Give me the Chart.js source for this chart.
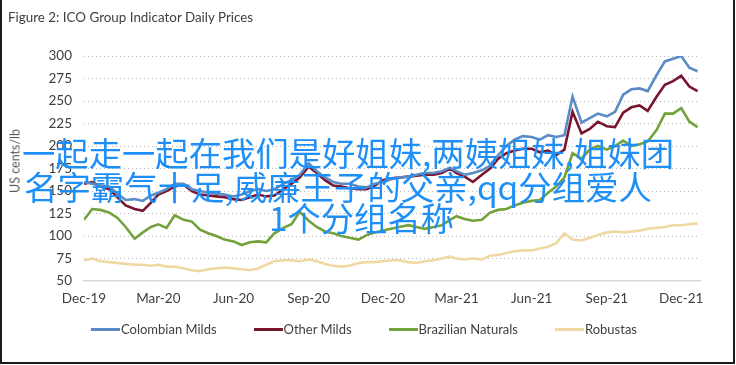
<!DOCTYPE html>
<html>
<head>
<meta charset="utf-8">
<script src="https://cdn.jsdelivr.net/npm/chart.js@4.4.0/dist/chart.umd.min.js"></script>
<style>
  html, body { margin: 0; padding: 0; background: #fff; }
  #wrap { position: relative; width: 736px; height: 365px; overflow: hidden;
          font-family: Lato, 'Liberation Sans', sans-serif; color: #404040; }
  #frame { position: absolute; left: 0; top: 0; width: 735px; height: 364px; box-sizing: border-box;
           border-left: 2px solid #1b1b1b; border-right: 2px solid #1b1b1b; border-bottom: 2px solid #1b1b1b; }
  canvas { position: absolute; left: 0; top: 0; }
  #title { position: absolute; left: 8px; top: 8px; font-size: 13.4px; line-height: 18px; white-space: nowrap; }
  #ytitle { position: absolute; left: 15px; top: 161px; font-size: 12.5px; color: #595959; white-space: nowrap;
            transform: translate(-50%, -50%) rotate(-90deg); }
  #legend { position: absolute; left: 0; width: 728px; top: 320px; display: flex; justify-content: center; gap: 37px;
            font-size: 13px; line-height: 18px; color: #404040; }
  #legend .item { display: flex; align-items: center; white-space: nowrap; }
  #legend .sw { width: 29px; height: 3px; margin-right: 1px; }
  .cn { position: absolute; font-family: 'Noto Sans CJK SC', sans-serif; font-size: 33px; line-height: 32px;
        color: #1e8ff7; white-space: nowrap; transform-origin: 0 50%; }
</style>
</head>
<body>
<div id="wrap">
  <canvas id="chart" width="736" height="365"></canvas>
  <div id="title">Figure 2: ICO Group Indicator Daily Prices</div>
  <div id="ytitle">US cents/lb</div>
  <div id="legend"></div>
  <div class="cn" data-w="652" style="left:22px; top:136px;">一起走一起在我们是好姐妹,两姨姐妹,姐妹团</div>
  <div class="cn" data-w="628" style="left:24px; top:170px;">名字霸气十足,威廉王子的父亲,qq分组爱人</div>
  <div class="cn" data-w="185" style="left:269px; top:201px;">1个分组名称</div>
  <div id="frame"></div>
</div>
<script>
// ICO daily prices, sampled on the 1st, 11th and 21st of each month from Dec-19
var seriesNames = ['Colombian Milds', 'Other Milds', 'Brazilian Naturals', 'Robustas'];
var seriesColors = ['#5b8bc7', '#7a1530', '#73a13b', '#efd9a3'];

var colombianMilds = [160,158,156,155,147,140,141,139,145,148,
  152,158,158,152,150,148,147,146,144,146,
  150,152,150,152,158,162,168,181,172,165,
  160,158,158,155,154,158,160,163,165,166,
  168,170,170,172,176,172,168,170,173,178,
  190,200,207,211,210,207,212,210,212,255,
  226,231,236,233,238,257,263,264,261,279,
  294,297,300,287,283];
var otherMilds = [158,160,155,152,143,134,130,128,137,146,
  150,155,157,150,146,145,144,143,141,140,
  143,146,144,145,152,158,165,177,170,162,
  156,155,153,152,152,156,162,164,165,166,
  167,168,168,170,175,170,166,160,168,175,
  186,192,195,197,197,193,195,190,196,238,
  214,219,227,222,221,237,243,245,239,255,
  268,272,278,266,261];
var brazilianNaturals = [118,130,129,126,120,110,97,104,110,113,
  109,123,118,116,107,103,100,96,94,90,
  93,94,93,103,109,113,127,117,110,105,
  103,100,98,96,101,104,106,108,110,112,
  110,108,110,112,118,122,119,117,118,126,
  129,130,134,137,139,140,148,155,165,192,
  186,196,200,196,200,206,200,202,205,218,
  236,236,242,227,221];
var robustas = [73,75,72,71,70,69,68,68,67,68,
  66,66,64,62,61,63,64,65,64,63,
  62,64,68,72,73,73,72,74,72,69,
  67,66,67,70,71,71,72,73,73,71,
  70,72,73,75,77,75,74,75,74,78,
  79,81,83,84,84,86,88,92,103,96,
  95,98,101,104,105,104,105,106,108,109,
  110,112,112,113,114];

var tickLabels = ['Dec-19','Mar-20','Jun-20','Sep-20','Dec-20','Mar-21','Jun-21','Sep-21','Dec-21'];
var yTicks = [50, 75, 100, 125, 150, 175, 200, 225, 250, 275, 300];

var sampleDays = [1, 11, 21];
var start = Date.UTC(2019, 11, 1);
var days = colombianMilds.map(function(_, i) {
    return (Date.UTC(2019, 11 + Math.floor(i / 3), sampleDays[i % 3]) - start) / 864e5;
});
var tickDays = tickLabels.map(function(_, k) {
    return (Date.UTC(2019, 11 + 3 * k, 1) - start) / 864e5;
});

var allSeries = [colombianMilds, otherMilds, brazilianNaturals, robustas];
var font = "Lato, 'Liberation Sans', sans-serif";

var datasets = allSeries.map(function(vals, s) {
    return {
        label: seriesNames[s],
        data: vals.map(function(v, i) { return {x: days[i], y: v}; }),
        borderColor: seriesColors[s],
        backgroundColor: seriesColors[s],
        borderWidth: 2.6,
        pointRadius: 0,
        tension: 0
    };
});

var ctx = document.getElementById('chart').getContext('2d');
var chart = new Chart(ctx, {
    type: 'line',
    data: { datasets: datasets },
    options: {
        responsive: false,
        animation: false,
        devicePixelRatio: 1,
        layout: { padding: { left: 8, right: 36, top: 56, bottom: 54 } },
        plugins: { legend: { display: false }, tooltip: { enabled: false } },
        scales: {
            x: {
                type: 'linear',
                min: 0,
                max: 754,
                afterFit: function(scale) { scale.height = 30; },
                afterBuildTicks: function(scale) {
                    scale.ticks = tickDays.map(function(d) { return {value: d}; });
                },
                ticks: {
                    autoSkip: false,
                    maxRotation: 0,
                    padding: 10,
                    color: '#404040',
                    font: { family: font, size: 13.5 },
                    callback: function(v, i) { return tickLabels[i]; }
                },
                grid: { display: false, drawTicks: false },
                border: { display: true, color: '#d9d9d9', width: 1.5 }
            },
            y: {
                min: 50,
                max: 300,
                afterFit: function(scale) { scale.width = 76; },
                afterBuildTicks: function(scale) {
                    scale.ticks = yTicks.map(function(v) { return {value: v}; });
                },
                ticks: {
                    padding: 12,
                    color: '#404040',
                    font: { family: font, size: 13.5 }
                },
                grid: {
                    drawTicks: false,
                    color: function(c) { return c.tick && c.tick.value === 50 ? 'rgba(0,0,0,0)' : '#b8b8b8'; },
                    lineWidth: 1
                },
                border: { display: false, dash: [1, 3] }
            }
        }
    }
});

// html legend from the chart datasets
var legend = document.getElementById('legend');
chart.data.datasets.forEach(function(ds) {
    var item = document.createElement('div');
    item.className = 'item';
    var sw = document.createElement('span');
    sw.className = 'sw';
    sw.style.background = ds.borderColor;
    var txt = document.createElement('span');
    txt.textContent = ds.label;
    item.appendChild(sw);
    item.appendChild(txt);
    legend.appendChild(item);
});

// squeeze the overlay lines to the width they take in the original
document.querySelectorAll('.cn').forEach(function(el) {
    var w = el.getBoundingClientRect().width;
    var target = +el.getAttribute('data-w');
    if (w > 0) el.style.transform = 'scaleX(' + (target / w).toFixed(4) + ')';
});
</script>
</body>
</html>
